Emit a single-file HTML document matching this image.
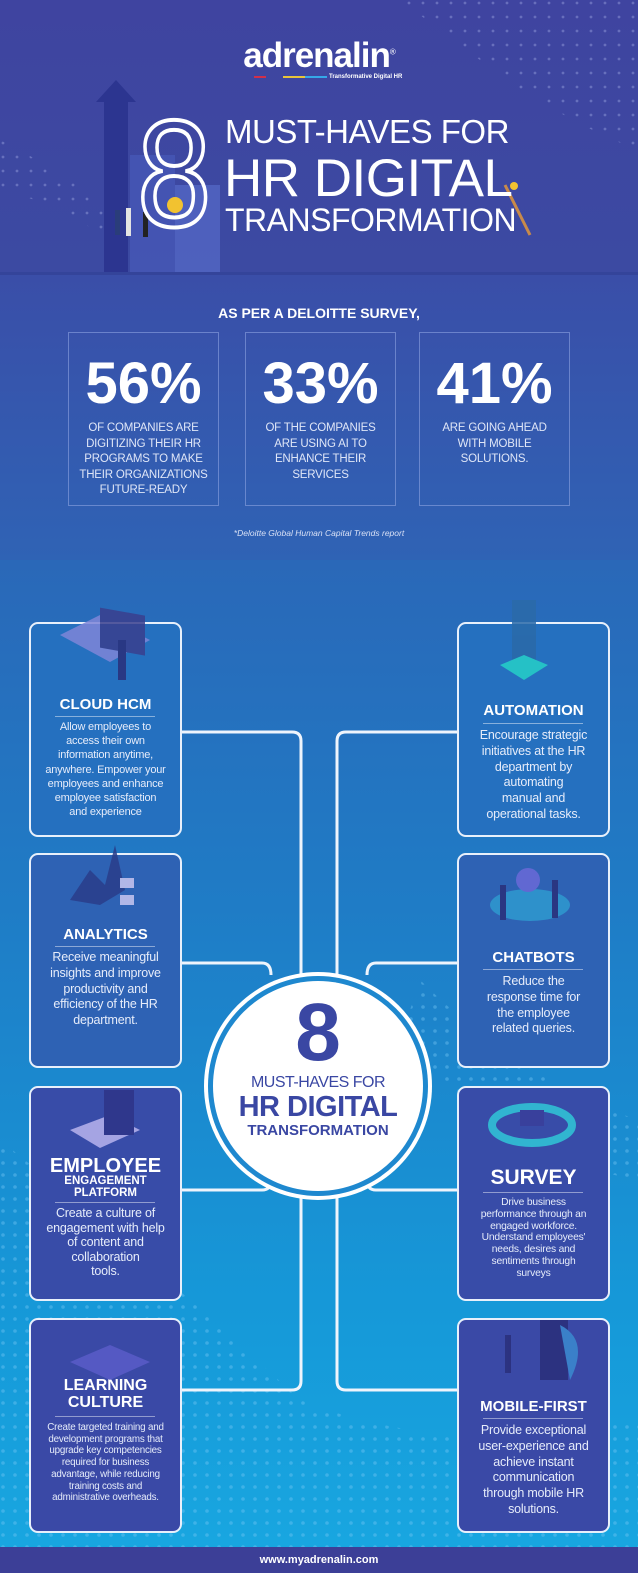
<!DOCTYPE html>
<html><head><meta charset="utf-8"><style>
*{margin:0;padding:0;box-sizing:border-box}
body{width:638px;height:1573px;position:relative;overflow:hidden;font-family:"Liberation Sans",sans-serif;color:#fff;background:#1a8fd3}
.a{position:absolute}
.hdr{left:0;top:0;width:638px;height:272px;background:linear-gradient(180deg,#3f44a0,#3c4aa2)}
.stats{left:0;top:272px;width:638px;height:288px;background:linear-gradient(180deg,#3a4ea8,#2f63b5);border-top:3px solid #34449a}
.main{left:0;top:560px;width:638px;height:987px;background:linear-gradient(180deg,#2a68b8 0%,#1f7cc6 35%,#1698d8 75%,#18a6e0 100%)}
.foot{left:0;top:1547px;width:638px;height:26px;background:#3c3f97;text-align:center;font-size:11px;font-weight:bold;line-height:26px}
.sb{border:1.5px solid rgba(150,170,230,.55);width:151px;height:174px;top:332px;text-align:center}
.sb .n{font-size:58px;line-height:58px;margin-top:22px;font-weight:bold}
.sb .t{font-size:11.5px;line-height:15.5px;color:#dfe6f7;margin-top:8px;letter-spacing:-.2px}
.bx{width:153px;height:215px;border:2.5px solid #e8f0fb;border-radius:9px;text-align:center}
.h{position:absolute;left:0;width:100%;font-weight:bold;text-align:center}
.d{position:absolute;left:24px;width:100px;height:1px;background:rgba(255,255,255,.45)}
.p{position:absolute;left:0;right:0;text-align:center;color:#e6ecfa;letter-spacing:-.2px;white-space:nowrap}
</style></head><body>
<div class="a hdr"></div>
<svg class="a" style="left:0;top:0" width="638" height="272">
<defs><pattern id="dp" width="14" height="14" patternUnits="userSpaceOnUse"><circle cx="3" cy="3" r="1.4" fill="rgba(180,190,240,.35)"/></pattern></defs>
<path d="M400 0 L638 0 L638 150 Q560 120 480 60 Z" fill="url(#dp)"/>
<path d="M0 140 Q60 170 110 210 L110 240 Q50 200 0 190 Z" fill="url(#dp)"/>
<rect x="104" y="100" width="24" height="180" fill="#2c3590"/>
<polygon points="96,102 116,80 136,102" fill="#2c3590"/>
<rect x="130" y="155" width="45" height="125" fill="#4658b6" opacity=".8"/>
<rect x="175" y="185" width="45" height="95" fill="#5266c4" opacity=".8"/>
<circle cx="175" cy="205" r="8" fill="#f2c230"/>
<rect x="115" y="210" width="5" height="25" fill="#2a3d7a"/><rect x="126" y="208" width="5" height="28" fill="#e3e3e3"/><rect x="143" y="212" width="5" height="25" fill="#222"/>
<line x1="505" y1="185" x2="530" y2="235" stroke="#c88a4a" stroke-width="3"/><circle cx="514" cy="186" r="4" fill="#f2c230"/>
</svg>
<div class="a" style="left:0;top:36px;width:638px;text-align:center;font-size:35px;font-weight:bold;letter-spacing:-1px">adrenalin<sup style="font-size:8px;font-weight:normal">®</sup></div>
<div class="a" style="left:329px;top:74px;font-size:6px;font-weight:bold">Transformative Digital HR</div>
<div class="a" style="left:254px;top:76px;width:12px;height:2px;background:#d0304a"></div>
<div class="a" style="left:283px;top:76px;width:30px;height:2px;background:#e8c43a"></div>
<div class="a" style="left:305px;top:76px;width:22px;height:2px;background:#35a8e8"></div>
<div class="a" style="left:137px;top:98px;font-size:152px;line-height:152px;color:transparent;-webkit-text-stroke:4px #fff;transform:scaleX(.88);transform-origin:left top">8</div>
<div class="a" style="left:225px;top:113px;font-size:33px;line-height:38px;letter-spacing:-.5px">MUST-HAVES FOR</div>
<div class="a" style="left:224px;top:152px;font-size:53px;line-height:54px;letter-spacing:-.5px">HR DIGITAL</div>
<div class="a" style="left:225px;top:203px;font-size:32px;line-height:34px;letter-spacing:-.5px">TRANSFORMATION</div>

<div class="a stats"></div>
<div class="a" style="left:0;top:305px;width:638px;text-align:center;font-size:14px;font-weight:bold">AS PER A DELOITTE SURVEY,</div>
<div class="a sb" style="left:68px"><div class="n">56%</div><div class="t">OF COMPANIES ARE<br>DIGITIZING THEIR HR<br>PROGRAMS TO MAKE<br>THEIR ORGANIZATIONS<br>FUTURE-READY</div></div>
<div class="a sb" style="left:245px"><div class="n">33%</div><div class="t">OF THE COMPANIES<br>ARE USING AI TO<br>ENHANCE THEIR<br>SERVICES</div></div>
<div class="a sb" style="left:419px"><div class="n">41%</div><div class="t">ARE GOING AHEAD<br>WITH MOBILE<br>SOLUTIONS.</div></div>
<div class="a" style="left:0;top:528px;width:638px;text-align:center;font-size:8.5px;font-style:italic;color:#d8e0f5">*Deloitte Global Human Capital Trends report</div>

<div class="a main"></div>
<svg class="a" style="left:0;top:560px" width="638" height="987">
<defs><pattern id="dp2" width="12" height="12" patternUnits="userSpaceOnUse"><circle cx="3" cy="3" r="1.8" fill="rgba(120,200,245,.4)"/></pattern></defs>
<path d="M0 580 Q150 700 300 840 Q450 900 638 860 L638 987 L0 987 Z" fill="url(#dp2)"/>
<path d="M420 420 Q520 520 638 560 L638 620 Q520 600 400 480 Z" fill="url(#dp2)"/>
</svg>
<svg class="a" style="left:0;top:0" width="638" height="1573" fill="none" stroke="#eef4fc" stroke-width="3">
<path d="M182 732 H292 Q301 732 301 741 V1381 Q301 1390 292 1390 H182"/>
<path d="M457 732 H346 Q337 732 337 741 V1381 Q337 1390 346 1390 H457"/>
<path d="M182 963 H262 Q271 963 271 975"/>
<path d="M457 963 H376 Q367 963 367 975"/>
<path d="M182 1190 H262 Q271 1190 271 1180"/>
<path d="M457 1190 H376 Q367 1190 367 1180"/>
</svg>
<div class="a" style="left:204px;top:972px;width:228px;height:228px;border-radius:50%;background:#fff;padding:4px"><div style="width:100%;height:100%;border-radius:50%;background:#1e88cf;padding:5px"><div style="width:100%;height:100%;border-radius:50%;background:#fff"></div></div></div>
<div class="a" style="left:204px;top:992px;width:228px;text-align:center;color:#3a47a3;font-size:82px;line-height:82px;font-weight:bold">8</div>
<div class="a" style="left:204px;top:1074px;width:228px;text-align:center;color:#3a47a3;font-size:16px;letter-spacing:-.5px">MUST-HAVES FOR</div>
<div class="a" style="left:204px;top:1091px;width:228px;text-align:center;color:#3a47a3;font-size:29px;font-weight:bold;letter-spacing:-.5px">HR DIGITAL</div>
<div class="a" style="left:204px;top:1122px;width:228px;text-align:center;color:#3a47a3;font-size:15px;font-weight:bold">TRANSFORMATION</div>

<div class="a bx" style="left:29px;top:622px;background:#2570bf"><div class="h" style="top:72px;font-size:15px">CLOUD HCM</div><div class="d" style="top:92px"></div><div class="p" style="top:96px;font-size:11px;line-height:14.2px">Allow employees to<br>access their own<br>information anytime,<br>anywhere. Empower your<br>employees and enhance<br>employee satisfaction<br>and experience</div></div>
<div class="a bx" style="left:457px;top:622px;background:#2570bf"><div class="h" style="top:78px;font-size:15px">AUTOMATION</div><div class="d" style="top:99px"></div><div class="p" style="top:104px;font-size:12.5px;line-height:15.8px">Encourage strategic<br>initiatives at the HR<br>department by<br>automating<br>manual and<br>operational tasks.</div></div>
<div class="a bx" style="left:29px;top:853px;background:#2e62b4"><div class="h" style="top:71px;font-size:15px">ANALYTICS</div><div class="d" style="top:91px"></div><div class="p" style="top:95px;font-size:12.5px;line-height:15.8px">Receive meaningful<br>insights and improve<br>productivity and<br>efficiency of the HR<br>department.</div></div>
<div class="a bx" style="left:457px;top:853px;background:#2e62b4"><div class="h" style="top:94px;font-size:15px">CHATBOTS</div><div class="d" style="top:114px"></div><div class="p" style="top:119px;font-size:12.5px;line-height:15.8px">Reduce the<br>response time for<br>the employee<br>related queries.</div></div>
<div class="a bx" style="left:29px;top:1086px;background:#384ca8"><div class="h" style="top:68px;font-size:20px;line-height:20px">EMPLOYEE</div><div class="h" style="top:87px;font-size:11.5px;line-height:12px">ENGAGEMENT<br>PLATFORM</div><div class="d" style="top:114px"></div><div class="p" style="top:118px;font-size:12.5px;line-height:14.6px">Create a culture of<br>engagement with help<br>of content and<br>collaboration<br>tools.</div></div>
<div class="a bx" style="left:457px;top:1086px;background:#384ca8"><div class="h" style="top:78px;font-size:21px">SURVEY</div><div class="d" style="top:104px"></div><div class="p" style="top:109px;font-size:10.3px;line-height:11.8px">Drive business<br>performance through an<br>engaged workforce.<br>Understand employees'<br>needs, desires and<br>sentiments through<br>surveys</div></div>
<div class="a bx" style="left:29px;top:1318px;background:#3a49a6"><div class="h" style="top:57px;font-size:16px;line-height:17px">LEARNING<br>CULTURE</div><div class="d" style="top:96px"></div><div class="p" style="top:102px;font-size:9.8px;line-height:11.7px">Create targeted training and<br>development programs that<br>upgrade key competencies<br>required for business<br>advantage, while reducing<br>training costs and<br>administrative overheads.</div></div>
<div class="a bx" style="left:457px;top:1318px;background:#3a49a6"><div class="h" style="top:78px;font-size:15px">MOBILE-FIRST</div><div class="d" style="top:98px"></div><div class="p" style="top:103px;font-size:12.5px;line-height:15.8px">Provide exceptional<br>user-experience and<br>achieve instant<br>communication<br>through mobile HR<br>solutions.</div></div>

<svg class="a" style="left:0;top:0" width="638" height="1573">
<g opacity=".85">
<polygon points="60,635 100,615 150,640 110,662" fill="#7f86d8"/><rect x="100" y="590" width="45" height="40" fill="#3a3f8e" transform="skewY(10)"/><rect x="118" y="640" width="8" height="40" fill="#2a2f7a"/>
<rect x="512" y="600" width="24" height="70" fill="#2a6aa8"/><polygon points="500,665 524,655 548,665 524,680" fill="#25d0c8"/>
<path d="M70 900 L90 870 L105 885 L115 845 L125 890 L100 905 Z" fill="#2a3d8a"/><rect x="120" y="878" width="14" height="10" fill="#c9c6f0"/><rect x="120" y="895" width="14" height="10" fill="#c9c6f0"/>
<ellipse cx="530" cy="905" rx="40" ry="16" fill="#2f9ad0"/><circle cx="528" cy="880" r="12" fill="#6a6ad8"/><rect x="500" y="885" width="6" height="35" fill="#2a2f7a"/><rect x="552" y="880" width="6" height="38" fill="#2a2f7a"/>
<polygon points="70,1130 110,1115 140,1130 100,1148" fill="#b8b4ee"/><rect x="104" y="1090" width="30" height="45" fill="#2e3488"/>
<ellipse cx="532" cy="1125" rx="40" ry="18" fill="none" stroke="#30c8d8" stroke-width="8"/><rect x="520" y="1110" width="24" height="16" fill="#3a3f9a"/>
<polygon points="70,1362 110,1345 150,1362 110,1380" fill="#5a5cc8"/>
<rect x="540" y="1320" width="28" height="60" fill="#2a2f7a"/><path d="M560 1325 Q590 1340 570 1380 Z" fill="#3b8ad0"/><rect x="505" y="1335" width="6" height="38" fill="#2a2f7a"/>
</g></svg>

<div class="a foot">www.myadrenalin.com</div>
</body></html>
